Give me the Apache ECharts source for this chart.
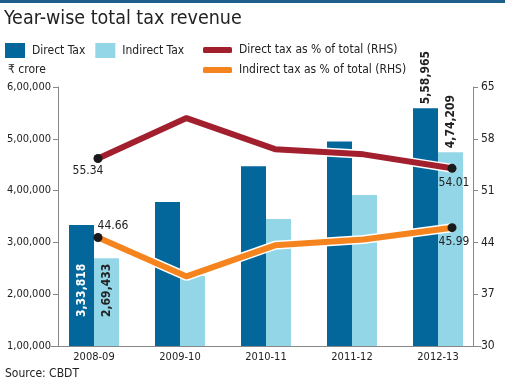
<!DOCTYPE html>
<html><head><meta charset="utf-8">
<script src="https://cdn.jsdelivr.net/npm/echarts@6/dist/echarts.min.js"></script>
<style>html,body{margin:0;padding:0;background:#fff}#c{width:505px;height:383px}</style>
</head><body><div id="c"></div>
<script>
const years = ['2008-09','2009-10','2010-11','2011-12','2012-13'];
const directTax = [333818, 378063, 447000, 495000, 558965];
const indirectTax = [269433, 235000, 345000, 391500, 474209];
const directPct = [55.34, 60.8, 56.6, 55.9, 54.01];
const indirectPct = [44.66, 39.4, 43.6, 44.4, 45.99];
const leftAxis = {min: 100000, max: 600000, interval: 100000};
const rightAxis = {min: 30, max: 65, interval: 7};

const FONT = "'Liberation Sans Narrow','DejaVu Sans Condensed',sans-serif";
const C_DARK = '#04679b', C_LIGHT = '#93d6e7', C_RED = '#a21f2e', C_ORANGE = '#f5841f';
function inr(n){
  const s = String(Math.round(n));
  if (s.length <= 3) return s;
  const last3 = s.slice(-3), rest = s.slice(0, -3);
  return rest.replace(/\B(?=(\d{2})+(?!\d))/g, ',') + ',' + last3;
}
const n = years.length;
function barData(vals, labelFor){
  return vals.map((v,i)=>{
    const o = {value: v};
    const l = labelFor(i);
    if (l) o.label = l;
    return o;
  });
}
const BL = {fontWeight:'bold', fontSize:12, fontFamily:FONT, rotate:90, align:'left', verticalAlign:'middle', formatter:p=>inr(p.value)};
const darkData = barData(directTax, i => i===0 ? Object.assign({show:true, position:'insideBottom', distance:29, color:'#fff'}, BL)
  : i===n-1 ? Object.assign({show:true, position:'top', distance:4, color:'#222'}, BL) : null);
const lightData = barData(indirectTax, i => i===0 ? Object.assign({show:true, position:'insideBottom', distance:29, color:'#222'}, BL)
  : i===n-1 ? Object.assign({show:true, position:'top', distance:4, color:'#222'}, BL) : null);

function lineData(vals, firstLabel, lastLabel){
  return vals.map((v,i)=>{
    if (i===0 || i===n-1){
      return {value:v, symbol:'circle', symbolSize:9, itemStyle:{color:'#1a1a1a'},
        label: Object.assign({show:true, color:'#222', fontSize:12, fontFamily:FONT, formatter:p=>p.value.toFixed(2)}, i===0?firstLabel:lastLabel)};
    }
    return {value:v, symbol:'none'};
  });
}

const chart = echarts.init(document.getElementById('c'), null, {renderer:'canvas'});
chart.setOption({
  backgroundColor:'#fff',
  animation:false,
  textStyle:{fontFamily:FONT},
  title:{text:'Year-wise total tax revenue', left:4, top:9, padding:0, textStyle:{fontSize:19.5, fontWeight:'normal', color:'#222', fontFamily:FONT}},
  legend:[
    {data:['Direct Tax','Indirect Tax'], left:5, top:43, padding:0, itemWidth:20, itemHeight:15, itemGap:10, icon:'rect',
      textStyle:{fontSize:12, color:'#222', fontFamily:FONT, padding:[0,0,0,2]}},
    {data:['Direct tax as % of total (RHS)','Indirect tax as % of total (RHS)'], left:203, top:43, padding:0, orient:'vertical',
      itemWidth:29, itemHeight:6, itemGap:6, icon:'roundRect', textStyle:{fontSize:12, color:'#222', fontFamily:FONT, lineHeight:14, padding:[0,0,0,2]}}
  ],
  graphic:[
    {type:'rect', shape:{x:0,y:0,width:505,height:3}, style:{fill:'#1e5f8c'}},
    {type:'text', left:8, top:64, style:{text:'₹ crore', fill:'#222', font:'12px '+FONT}},
    {type:'text', left:5, top:368, style:{text:'Source: CBDT', fill:'#222', font:'12px '+FONT}}
  ],
  grid:[
    {left:51, right:24, top:87, bottom:37},
    {left:98, right:53, top:87, bottom:37}
  ],
  xAxis:[
    {type:'category', gridIndex:0, data:years, boundaryGap:true,
      axisLine:{lineStyle:{color:'#888'}}, axisTick:{show:false},
      axisLabel:{color:'#222', fontSize:11, margin:6, fontFamily:FONT}},
    {type:'category', gridIndex:1, data:years, boundaryGap:false, show:false}
  ],
  yAxis:[
    {type:'value', gridIndex:0, position:'left', offset:-7, min:leftAxis.min, max:leftAxis.max, interval:leftAxis.interval,
      axisLine:{show:true, lineStyle:{color:'#888'}}, axisTick:{show:true, length:5, lineStyle:{color:'#888'}},
      splitLine:{show:false}, axisLabel:{color:'#222', fontSize:11, margin:7, fontFamily:FONT, formatter:v=>inr(v)}},
    {type:'value', gridIndex:1, position:'right', offset:21, min:rightAxis.min, max:rightAxis.max, interval:rightAxis.interval,
      axisLine:{show:true, lineStyle:{color:'#888'}}, axisTick:{show:true, length:5, lineStyle:{color:'#888'}},
      splitLine:{show:false}, axisLabel:{color:'#222', fontSize:12, margin:8, fontFamily:FONT}}
  ],
  series:[
    {name:'Direct Tax', type:'bar', xAxisIndex:0, yAxisIndex:0, barWidth:25, barGap:'0%', itemStyle:{color:C_DARK}, data:darkData},
    {name:'Indirect Tax', type:'bar', xAxisIndex:0, yAxisIndex:0, barWidth:25, barGap:'0%', itemStyle:{color:C_LIGHT}, data:lightData},
    {name:'_w1', type:'line', xAxisIndex:1, yAxisIndex:1, symbol:'none', lineStyle:{color:'#fff', width:9}, data:directPct, silent:true, z:3},
    {name:'_w2', type:'line', xAxisIndex:1, yAxisIndex:1, symbol:'none', lineStyle:{color:'#fff', width:9}, data:indirectPct, silent:true, z:3},
    {name:'Direct tax as % of total (RHS)', type:'line', xAxisIndex:1, yAxisIndex:1, z:4, color:C_RED,
      lineStyle:{color:C_RED, width:6}, itemStyle:{color:C_RED},
      data:lineData(directPct, {position:'bottom', distance:2, offset:[-10,0]}, {position:'bottom', distance:4, offset:[2,0]})},
    {name:'Indirect tax as % of total (RHS)', type:'line', xAxisIndex:1, yAxisIndex:1, z:4, color:C_ORANGE,
      lineStyle:{color:C_ORANGE, width:6}, itemStyle:{color:C_ORANGE},
      data:lineData(indirectPct, {position:'top', distance:1, offset:[15,0]}, {position:'bottom', distance:4, offset:[2,0]})}
  ]
});
</script></body></html>
